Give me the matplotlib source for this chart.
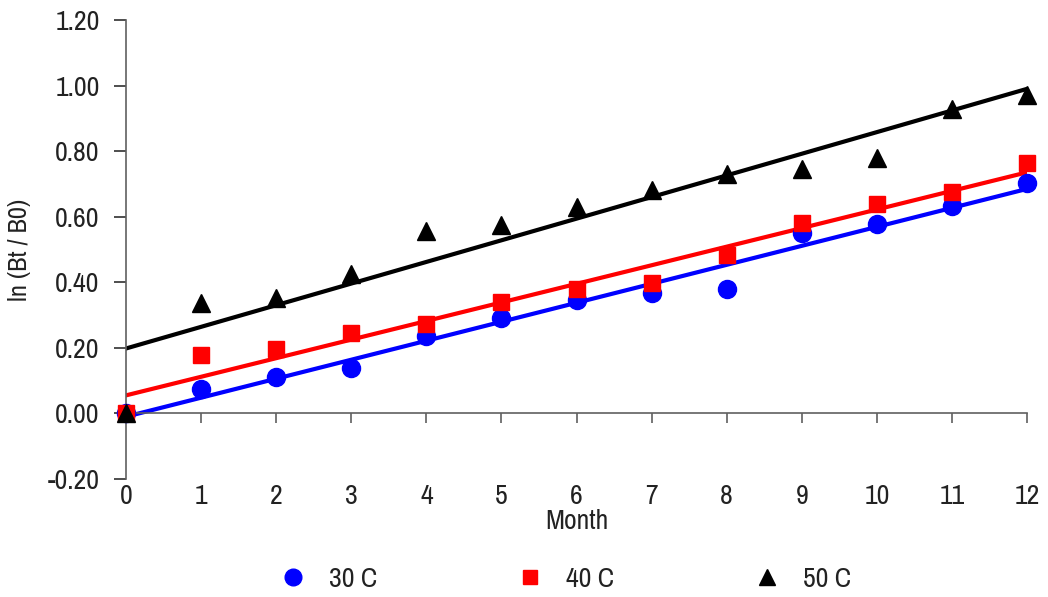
import numpy as np
import matplotlib
matplotlib.use('Agg')
from matplotlib import pyplot as plt
from matplotlib.lines import Line2D

plt.rcParams['font.family'] = ['Archivo Narrow', 'Roboto Condensed', 'DejaVu Sans']

# data
months = np.arange(0, 13)
ln_30 = [0.00, 0.073, 0.11, 0.14, 0.235, 0.29, 0.345, 0.368, 0.379, 0.55, 0.577, 0.633, 0.702]
ln_40 = [0.00, 0.177, 0.195, 0.244, 0.272, 0.34, 0.38, 0.397, 0.482, 0.58, 0.64, 0.676, 0.764]
ln_50 = [0.00, 0.336, 0.351, 0.424, 0.556, 0.574, 0.63, 0.68, 0.73, 0.745, 0.778, 0.93, 0.97]

# linear fits (slope, intercept) as drawn
fit_30 = (0.0579, -0.010)
fit_40 = (0.0567, 0.055)
fit_50 = (0.0660, 0.198)

labels = ['30 C', '40 C', '50 C']
colors = ['#0000ff', '#ff0000', '#000000']
markers = ['o', 's', '^']

fig = plt.figure(figsize=(10.48, 5.97), dpi=100)
ax = fig.add_axes([0.1202, 0.1977, 0.8598, 0.7688])

xx = np.array([0, 12])
for fit, c in zip([fit_30, fit_40, fit_50], colors):
    ax.plot(xx, fit[0] * xx + fit[1], color=c, lw=3, zorder=2)
for y, c, m in zip([ln_30, ln_40, ln_50], colors, markers):
    ms = 11 if m == 's' else 13
    ax.plot(months, y, linestyle='none', marker=m, color=c, ms=ms, zorder=3, clip_on=False)

ax.set_xlim(0, 12)
ax.set_ylim(-0.2, 1.2)
yt = np.arange(-0.2, 1.21, 0.2)
ax.set_yticks(yt)
ax.set_yticklabels(['%.2f' % v for v in yt])
ax.set_xticks(months)

for s in ['top', 'right']:
    ax.spines[s].set_visible(False)
ax.spines['bottom'].set_position(('data', 0))
for s in ['left', 'bottom']:
    ax.spines[s].set_color('#606060')
    ax.spines[s].set_linewidth(1.2)

ax.tick_params(axis='y', direction='out', length=9, width=1.2, color='#303030',
               labelsize=20, pad=10, labelcolor='#222222')
ax.tick_params(axis='x', direction='out', length=7, width=1.2, color='#606060',
               labelsize=20, pad=44, labelcolor='#222222')

ax.set_xlabel('Month', fontsize=20, color='#222222', labelpad=0)
ax.set_ylabel('ln (Bt / B0)', fontsize=19, color='#222222', labelpad=12)

handles = [Line2D([], [], linestyle='none', marker=m, color=c, ms=(10 if m == 's' else 12))
           for m, c in zip(markers, colors)]
fig.legend(handles, labels, loc='center', bbox_to_anchor=(0.539, 0.03), ncol=3,
           frameon=False, fontsize=20, handlelength=1, handletextpad=0.8,
           columnspacing=5.0, labelcolor='#222222')

fig.savefig('out.png', dpi=100)
